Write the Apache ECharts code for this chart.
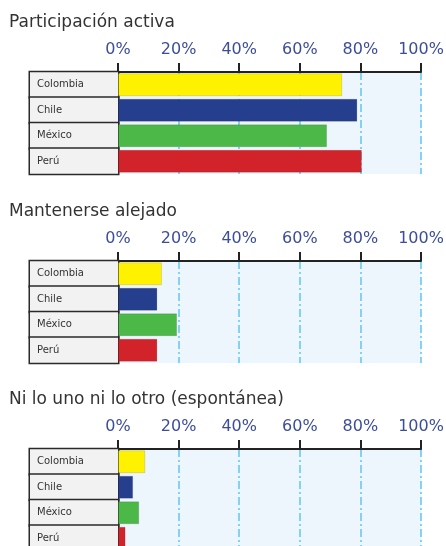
<!DOCTYPE html>
<html>
<head>
<meta charset="utf-8">
<script src="https://cdn.jsdelivr.net/npm/echarts@6/dist/echarts.min.js"></script>
<style>
html,body{margin:0;padding:0;background:#fff;}
#chart{width:446px;height:546px;}
</style>
</head>
<body>
<div id="chart"></div>
<script>
// datos
const countries = ['Colombia', 'Chile', 'México', 'Perú'];
const panelTitles = ['Participación activa', 'Mantenerse alejado', 'Ni lo uno ni lo otro (espontánea)'];
const activa = [74, 79, 69, 80.5];
const alejado = [14.5, 13, 19.5, 13];
const ninguno = [9, 5, 7, 2.5];
const barColors = ['#fff200', '#253f8e', '#4cb848', '#d2232a'];

const panelData = [activa, alejado, ninguno];
const gridTops = [72, 261, 449];
const titleTops = [14, 203, 391];

var myChart = echarts.init(document.getElementById('chart'));

let title = [];
let grid = [];
let xAxis = [];
let yAxis = [];
let series = [];
for (let i = 0; i < panelData.length; i++) {
    title.push({
        text: panelTitles[i],
        left: 9,
        top: titleTops[i],
        padding: 0,
        textStyle: {
            fontFamily: 'DejaVu Sans',
            fontSize: 17,
            fontWeight: 'normal',
            color: '#333'
        }
    });
    grid.push({
        left: 118,
        width: 303,
        top: gridTops[i],
        height: 102,
        outerBoundsMode: 'none', // el ultimo panel sale del lienzo, como en la imagen
        show: true,
        backgroundColor: '#eef6fd',
        borderWidth: 0
    });
    xAxis.push({
        gridIndex: i,
        type: 'value',
        position: 'top',
        min: 0,
        max: 100,
        interval: 20,
        axisLine: { show: true, lineStyle: { color: '#222', width: 2 } },
        axisTick: { show: true, length: 9, lineStyle: { color: '#222', width: 2 } },
        axisLabel: {
            margin: 14,
            formatter: '{value}%',
            fontFamily: 'DejaVu Sans',
            fontSize: 16,
            color: '#3c4d9c'
        },
        splitLine: {
            show: true,
            lineStyle: { color: '#5cc8f2', width: 1.5, type: [8, 3, 2, 3] }
        }
    });
    yAxis.push({
        gridIndex: i,
        type: 'category',
        inverse: true,
        data: countries,
        axisLine: { show: true, lineStyle: { color: '#222', width: 2 } },
        axisTick: { show: false },
        axisLabel: {
            interval: 0,
            showMinLabel: true,
            showMaxLabel: true,
            hideOverlap: false,
            margin: 88,
            align: 'left',
            width: 81,
            height: 25,
            lineHeight: 25,
            padding: [0, 0, 0, 7],
            backgroundColor: '#f2f2f2',
            borderColor: '#2a2a2a',
            borderWidth: 1.5,
            fontFamily: 'DejaVu Sans',
            fontSize: 10,
            color: '#333'
        }
    });
    series.push({
        type: 'bar',
        xAxisIndex: i,
        yAxisIndex: i,
        barWidth: '90%',
        data: panelData[i],
        itemStyle: {
            color: function (p) { return barColors[p.dataIndex]; },
            borderColor: 'rgba(0,0,0,0.12)',
            borderWidth: 1
        }
    });
}

var option = {
    animation: false,
    title: title,
    grid: grid,
    xAxis: xAxis,
    yAxis: yAxis,
    series: series
};
myChart.setOption(option);
</script>
</body>
</html>
